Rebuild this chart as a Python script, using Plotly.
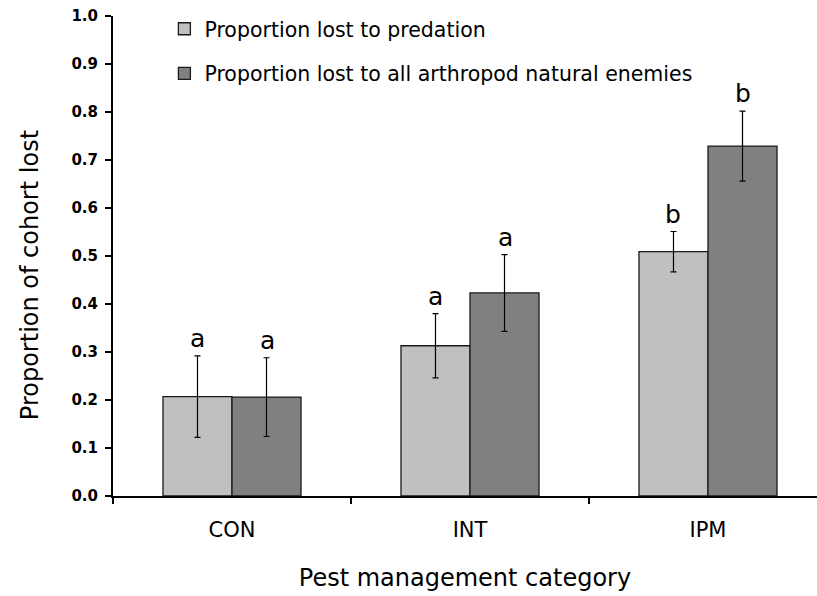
import plotly.graph_objects as go

categories = ["CON", "INT", "IPM"]
predation = [0.207, 0.313, 0.509]
predation_err = [0.085, 0.067, 0.042]
all_enemies = [0.206, 0.423, 0.729]
all_enemies_err = [0.082, 0.080, 0.073]
pred_letters = ["a", "a", "b"]
all_letters = ["a", "a", "b"]
y_ticks = [0.0, 0.1, 0.2, 0.3, 0.4, 0.5, 0.6, 0.7, 0.8, 0.9, 1.0]
y_tick_labels = ["<b>%.1f</b>" % v for v in y_ticks]
y_title = "Proportion of cohort lost"
x_title = "Pest management category"

FONT = "DejaVu Sans, Liberation Sans, Arial, sans-serif"

fig = go.Figure()
fig.add_trace(go.Bar(
    x=categories, y=predation, name="Proportion lost to predation",
    legendgroup="g1",
    marker=dict(color="#c0c0c0", line=dict(color="#1a1a1a", width=1.3)),
    error_y=dict(type="data", array=predation_err, color="black", thickness=1.2, width=3),
))
fig.add_trace(go.Bar(
    x=categories, y=all_enemies, name="Proportion lost to all arthropod natural enemies",
    legendgroup="g2",
    marker=dict(color="#808080", line=dict(color="#1a1a1a", width=1.3)),
    error_y=dict(type="data", array=all_enemies_err, color="black", thickness=1.2, width=3),
))

annotations = []
for i, c in enumerate(categories):
    annotations.append(dict(x=c, y=predation[i] + predation_err[i], xref="x", yref="y",
                            text=pred_letters[i], showarrow=False, yanchor="bottom",
                            xshift=-35, yshift=1, font=dict(family=FONT, size=25, color="black")))
    annotations.append(dict(x=c, y=all_enemies[i] + all_enemies_err[i], xref="x", yref="y",
                            text=all_letters[i], showarrow=False, yanchor="bottom",
                            xshift=35, yshift=1, font=dict(family=FONT, size=25, color="black")))
annotations.append(dict(x=-0.118, y=0.46, xref="paper", yref="paper", text=y_title,
                        textangle=-90, showarrow=False, xanchor="center", yanchor="middle",
                        font=dict(family=FONT, size=24, color="black")))

fig.update_layout(
    width=817, height=596,
    margin=dict(l=113, r=0, t=16, b=100, autoexpand=False),
    paper_bgcolor="white", plot_bgcolor="white",
    barmode="group", bargap=0.42, bargroupgap=0,
    font=dict(family=FONT, color="black"),
    showlegend=True,
    legend=dict(x=0.073, y=0.985, xref="paper", yref="container", xanchor="left", yanchor="top",
                font=dict(family=FONT, size=20.5, color="black"),
                bgcolor="rgba(0,0,0,0)", traceorder="grouped", tracegroupgap=15),
    annotations=annotations,
    xaxis=dict(
        range=[-0.5, 2.458], showline=True, linecolor="black", linewidth=2,
        ticks="outside", tickson="boundaries", ticklen=6, tickwidth=2, tickcolor="black",
        ticklabelstandoff=14,
        tickfont=dict(family=FONT, size=21, color="black"),
        title=dict(text=x_title, font=dict(family=FONT, size=24, color="black"), standoff=28),
        showgrid=False, zeroline=False,
    ),
    yaxis=dict(
        range=[0, 1.0], tickvals=y_ticks, ticktext=y_tick_labels,
        showline=True, linecolor="black", linewidth=2,
        ticks="outside", ticklen=6, tickwidth=2, tickcolor="black",
        ticklabelstandoff=4,
        tickfont=dict(family=FONT, size=15, color="black"),
        showgrid=False, zeroline=False,
    ),
)

fig.write_html(
    "out.html",
    config={"displayModeBar": False},
    post_script="document.body.style.margin='0';document.body.style.overflow='hidden';",
)
